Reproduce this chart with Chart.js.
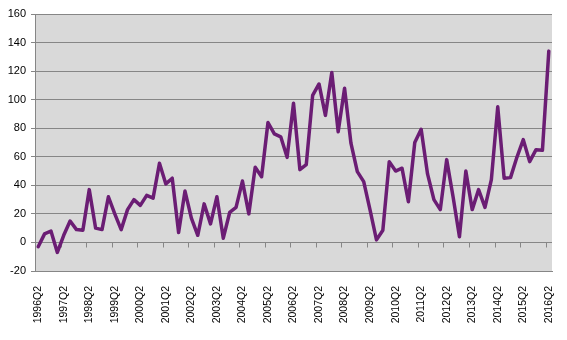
<!DOCTYPE html>
<html>
<head>
<meta charset="utf-8">
<script src="https://cdn.jsdelivr.net/npm/chart.js@4/dist/chart.umd.min.js"></script>
<style>
  html, body { margin: 0; padding: 0; background: #ffffff; }
  #wrap { width: 567px; height: 340px; position: relative; }
</style>
</head>
<body>
<div id="wrap"><canvas id="c"></canvas></div>
<script>
const quarters = [
  "1996Q2","1996Q3","1996Q4","1997Q1","1997Q2","1997Q3","1997Q4","1998Q1",
  "1998Q2","1998Q3","1998Q4","1999Q1","1999Q2","1999Q3","1999Q4","2000Q1",
  "2000Q2","2000Q3","2000Q4","2001Q1","2001Q2","2001Q3","2001Q4","2002Q1",
  "2002Q2","2002Q3","2002Q4","2003Q1","2003Q2","2003Q3","2003Q4","2004Q1",
  "2004Q2","2004Q3","2004Q4","2005Q1","2005Q2","2005Q3","2005Q4","2006Q1",
  "2006Q2","2006Q3","2006Q4","2007Q1","2007Q2","2007Q3","2007Q4","2008Q1",
  "2008Q2","2008Q3","2008Q4","2009Q1","2009Q2","2009Q3","2009Q4","2010Q1",
  "2010Q2","2010Q3","2010Q4","2011Q1","2011Q2","2011Q3","2011Q4","2012Q1",
  "2012Q2","2012Q3","2012Q4","2013Q1","2013Q2","2013Q3","2013Q4","2014Q1",
  "2014Q2","2014Q3","2014Q4","2015Q1","2015Q2","2015Q3","2015Q4","2016Q1",
  "2016Q2"
];

const values = [
  -3, 6, 8, -7, 5, 15, 9, 8.5,
  37, 10, 9, 32, 20, 9, 23, 30,
  26, 33, 31, 55.5, 41, 45, 7, 36,
  17, 5, 27, 13, 32, 3, 21, 24.5,
  43, 20, 52.6, 46, 84, 76, 74, 59.6,
  97.5, 51, 54.5, 103, 111, 89, 119, 77.5,
  108, 69.5, 49.6, 42.6, 22.7, 1.8, 8.6, 56.6,
  50, 52, 28.5, 70, 79.3, 48, 30, 23,
  58, 32, 4, 50, 23, 37, 24.5, 44,
  95, 45, 45.4, 59.6, 72, 56.6, 65, 64.5,
  134
];

const yTicks = [-20, 0, 20, 40, 60, 80, 100, 120, 140, 160];

const GRID = '#868686';

const bgPlugin = {
  id: 'plotBg',
  beforeDraw(chart) {
    const a = chart.chartArea, ctx = chart.ctx;
    ctx.save();
    ctx.fillStyle = '#D9D9D9';
    ctx.fillRect(a.left, a.top, a.right - a.left, a.bottom - a.top);
    ctx.restore();
  }
};

const zeroAxisPlugin = {
  id: 'zeroAxis',
  beforeDatasetsDraw(chart) {
    const x = chart.scales.x, y = chart.scales.y, ctx = chart.ctx;
    const y0 = Math.round(y.getPixelForValue(0)) + 0.5;
    const half = (x.getPixelForValue(1) - x.getPixelForValue(0)) / 2;
    ctx.save();
    ctx.strokeStyle = GRID;
    ctx.lineWidth = 1;
    ctx.beginPath();
    for (let i = 0; i < quarters.length; i += 4) {
      const px = Math.round(x.getPixelForValue(i) - half) + 0.5;
      ctx.moveTo(px, y0);
      ctx.lineTo(px, y0 + 5);
    }
    ctx.stroke();
    ctx.restore();
  }
};

new Chart(document.getElementById('c'), {
  type: 'line',
  data: {
    labels: quarters,
    datasets: [{
      data: values,
      borderColor: '#6B1D74',
      borderWidth: 3.5,
      pointRadius: 0,
      tension: 0,
      fill: false,
      borderJoinStyle: 'round',
      borderCapStyle: 'round'
    }]
  },
  options: {
    responsive: true,
    maintainAspectRatio: false,
    animation: false,
    devicePixelRatio: 1,
    layout: { padding: { top: 14, right: 15, left: 0, bottom: 0 } },
    plugins: { legend: { display: false }, tooltip: { enabled: false } },
    scales: {
      x: {
        offset: true,
        grid: { display: false, drawTicks: false, offset: true },
        border: { display: true, color: GRID, width: 1 },
        ticks: {
          autoSkip: false,
          minRotation: 90,
          maxRotation: 90,
          padding: 15,
          color: '#000000',
          font: { family: 'Liberation Sans, Arial, sans-serif', size: 10.5 },
          callback: function(v, i) { return i % 4 === 0 ? quarters[i] : ''; }
        },
        afterFit(scale) {
          scale.height = 69;
          scale.paddingLeft = 0;
          scale.paddingRight = 0;
        }
      },
      y: {
        min: -20,
        max: 160,
        afterBuildTicks(scale) { scale.ticks = yTicks.map(v => ({ value: v })); },
        grid: { color: GRID, lineWidth: 1, tickLength: 4, drawTicks: true },
        border: { display: true, color: GRID, width: 1 },
        ticks: {
          padding: 5,
          color: '#000000',
          font: { family: 'Liberation Sans, Arial, sans-serif', size: 11 }
        },
        afterFit(scale) { scale.width = 35; }
      }
    }
  },
  plugins: [bgPlugin, zeroAxisPlugin]
});
</script>
</body>
</html>
